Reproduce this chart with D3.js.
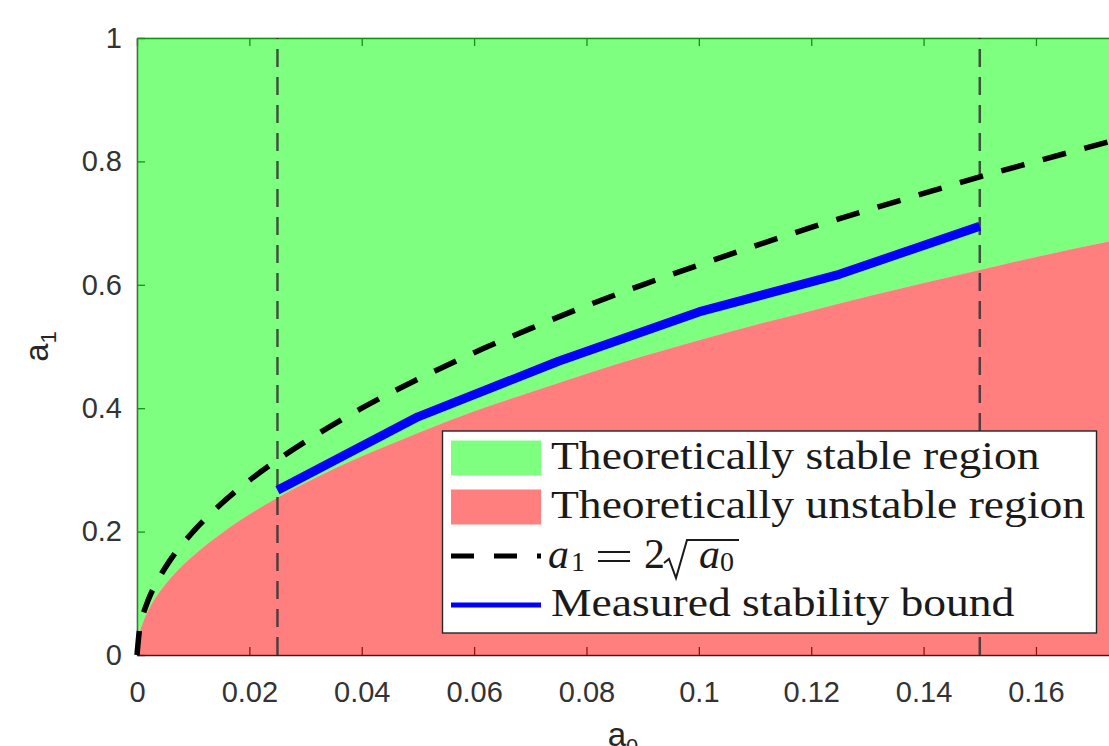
<!DOCTYPE html>
<html lang="en">
<head>
<meta charset="UTF-8">
<title>Stability region</title>
<script src="https://d3js.org/d3.v7.min.js"></script>
<style>
    body {
        margin: 0;
        background-color: #ffffff;
    }
    .tick text {
        font-family: "Liberation Sans", Arial, sans-serif;
        font-size: 29px;
        fill: #333333;
    }
</style>
</head>
<body>

<div id="my_dataviz"></div>

<script>

//data
var a0Grid = [0, 0.0005, 0.001, 0.002, 0.004, 0.006, 0.01, 0.015, 0.02, 0.025, 0.03, 0.04, 0.05,
              0.06, 0.07, 0.08, 0.09, 0.1, 0.11, 0.12, 0.13, 0.14, 0.15, 0.16, 0.173];
//edge between the red and the green region
var boundaryA1 = [0, 0.036, 0.051, 0.072, 0.102, 0.125, 0.161, 0.197, 0.228, 0.255, 0.279, 0.322, 0.360,
                  0.395, 0.426, 0.456, 0.484, 0.510, 0.535, 0.558, 0.581, 0.603, 0.624, 0.645, 0.670];
//black dashed curve a1 = 2 sqrt(a0)
var sqrtCurveA1 = [0, 0.045, 0.063, 0.089, 0.126, 0.155, 0.200, 0.245, 0.283, 0.316, 0.346, 0.400, 0.447,
                   0.490, 0.529, 0.566, 0.600, 0.632, 0.663, 0.693, 0.721, 0.748, 0.775, 0.800, 0.832];
//blue measured bound
var measuredA0 = [0.025, 0.05, 0.075, 0.1, 0.125, 0.15];
var measuredA1 = [0.267, 0.386, 0.476, 0.556, 0.617, 0.695];
//vertical dashed markers
var markerA0 = [0.025, 0.15];

var xTicks = [0, 0.02, 0.04, 0.06, 0.08, 0.1, 0.12, 0.14, 0.16];
var xTickLabels = ["0", "0.02", "0.04", "0.06", "0.08", "0.1", "0.12", "0.14", "0.16"];
var yTicks = [0, 0.2, 0.4, 0.6, 0.8, 1];
var yTickLabels = ["0", "0.2", "0.4", "0.6", "0.8", "1"];

var legendLabels = ["Theoretically stable region", "Theoretically unstable region", "", "Measured stability bound"];

//dimensions and margins
var W = 1109, H = 746;
var margin = {top: 38, right: 0, bottom: 91, left: 137};

var svg = d3.select("#my_dataviz")
    .append("svg")
        .attr("width", W)
        .attr("height", H)
        .style("display", "block");

var x = d3.scaleLinear()
    .domain([0, 0.173])
    .range([margin.left, W - margin.right]);
var y = d3.scaleLinear()
    .domain([0, 1])
    .range([H - margin.bottom, margin.top]);

var curve = a0Grid.map(function(a, i) { return {a0: a, lo: boundaryA1[i], sq: sqrtCurveA1[i]}; });
var measured = measuredA0.map(function(a, i) { return {a0: a, a1: measuredA1[i]}; });

//axes first, the half transparent patches go over them
function styleAxis(g) {
    g.select(".domain").attr("stroke", "#262626").attr("stroke-width", 1.5);
    g.selectAll(".tick line").attr("stroke", "#262626").attr("stroke-width", 1.3);
}
svg.append("g")
    .attr("transform", "translate(0," + y(0) + ")")
    .call(d3.axisBottom(x).tickValues(xTicks)
        .tickFormat(function(d, i) { return xTickLabels[i]; })
        .tickSizeInner(-8).tickSizeOuter(0).tickPadding(26))
    .call(styleAxis);
svg.append("g")
    .attr("transform", "translate(0," + y(1) + ")")
    .call(d3.axisTop(x).tickValues(xTicks).tickFormat("")
        .tickSizeInner(-8).tickSizeOuter(0))
    .call(styleAxis);
svg.append("g")
    .attr("transform", "translate(" + x(0) + ",0)")
    .call(d3.axisLeft(y).tickValues(yTicks)
        .tickFormat(function(d, i) { return yTickLabels[i]; })
        .tickSizeInner(-8).tickSizeOuter(0).tickPadding(15))
    .call(styleAxis);
svg.selectAll(".domain").attr("fill", "none");

//regions
var greenArea = d3.area()
    .x(function(d) { return x(d.a0); })
    .y0(function(d) { return y(d.lo); })
    .y1(y(1))
    .curve(d3.curveMonotoneX);
var redArea = d3.area()
    .x(function(d) { return x(d.a0); })
    .y0(y(0))
    .y1(function(d) { return y(d.lo); })
    .curve(d3.curveMonotoneX);

svg.append("path")
    .datum(curve)
    .attr("d", greenArea)
    .attr("fill", "#00ff00")
    .attr("fill-opacity", 0.5);
svg.append("path")
    .datum(curve)
    .attr("d", redArea)
    .attr("fill", "#ff0000")
    .attr("fill-opacity", 0.5);

//vertical dashed markers
svg.selectAll("marker-line")
    .data(markerA0)
    .enter()
    .append("line")
        .attr("x1", function(d) { return x(d); })
        .attr("x2", function(d) { return x(d); })
        .attr("y1", y(0))
        .attr("y2", y(1))
        .attr("stroke", "#2a2a2a")
        .attr("stroke-opacity", 0.8)
        .attr("stroke-width", 2.5)
        .attr("stroke-dasharray", "18,10");

//a1 = 2 sqrt(a0)
svg.append("path")
    .datum(curve)
    .attr("d", d3.line()
        .x(function(d) { return x(d.a0); })
        .y(function(d) { return y(d.sq); })
        .curve(d3.curveMonotoneX))
    .attr("fill", "none")
    .attr("stroke", "#000000")
    .attr("stroke-width", 5.5)
    .attr("stroke-dasharray", "24,19");

//measured bound
svg.append("path")
    .datum(measured)
    .attr("d", d3.line()
        .x(function(d) { return x(d.a0); })
        .y(function(d) { return y(d.a1); }))
    .attr("fill", "none")
    .attr("stroke", "#0000ff")
    .attr("stroke-width", 9)
    .attr("stroke-linejoin", "round");

//axis labels
var xLabel = svg.append("text")
    .attr("x", (x(0) + W) / 2)
    .attr("y", 746)
    .attr("text-anchor", "middle")
    .style("font-family", "Liberation Sans, Arial, sans-serif")
    .style("font-size", "33px")
    .attr("fill", "#262626");
xLabel.append("tspan").text("a");
xLabel.append("tspan").attr("dy", 8).style("font-size", "22px").text("0");

var yLabel = svg.append("text")
    .attr("transform", "translate(48," + ((y(0) + y(1)) / 2) + ")rotate(-90)")
    .attr("text-anchor", "middle")
    .style("font-family", "Liberation Sans, Arial, sans-serif")
    .style("font-size", "33px")
    .attr("fill", "#262626");
yLabel.append("tspan").text("a");
yLabel.append("tspan").attr("dy", 8).style("font-size", "22px").text("1");

//legend
var legend = svg.append("g");
legend.append("rect")
    .attr("x", 442.5)
    .attr("y", 431)
    .attr("width", 654)
    .attr("height", 202)
    .attr("fill", "#ffffff")
    .attr("stroke", "#262626")
    .attr("stroke-width", 1.4);

var rowY = function(i) { return 458 + i * 49; };
var serif = "Liberation Serif, Times New Roman, serif";
var ink = "#1a1a1a";

legend.append("rect")
    .attr("x", 451).attr("y", rowY(0) - 17.5).attr("width", 90).attr("height", 35)
    .attr("fill", "#00ff00").attr("fill-opacity", 0.5);
legend.append("rect")
    .attr("x", 451).attr("y", rowY(1) - 17.5).attr("width", 90).attr("height", 35)
    .attr("fill", "#ff0000").attr("fill-opacity", 0.5);
legend.append("line")
    .attr("x1", 451).attr("x2", 541).attr("y1", rowY(2)).attr("y2", rowY(2))
    .attr("stroke", "#000000").attr("stroke-width", 5).attr("stroke-dasharray", "23,20");
legend.append("line")
    .attr("x1", 451).attr("x2", 541).attr("y1", rowY(3)).attr("y2", rowY(3))
    .attr("stroke", "#0000ff").attr("stroke-width", 5);

legendLabels.forEach(function(t, i) {
    if (t === "") return;
    legend.append("text")
        .attr("transform", "translate(551," + (rowY(i) + 11) + ")scale(1.14,1)")
        .style("font-family", serif)
        .style("font-size", "40px")
        .attr("fill", ink)
        .text(t);
});

//math entry: a1 = 2 sqrt(a0), set by hand like LaTeX would
var mb = rowY(2) + 12;
function mathPiece(px, str, size, italic, shift) {
    legend.append("text")
        .attr("x", px)
        .attr("y", mb + (shift || 0))
        .style("font-family", serif)
        .style("font-size", size + "px")
        .style("font-style", italic ? "italic" : "normal")
        .attr("fill", ink)
        .text(str);
}
mathPiece(548, "a", 42, true);
mathPiece(571, "1", 28, false, 3);
//equals sign
legend.append("path")
    .attr("d", "M598," + (mb - 16) + "H630M598," + (mb - 7) + "H630")
    .attr("stroke", ink)
    .attr("stroke-width", 2.2);
mathPiece(644, "2", 42, false);
//radical sign with bar
legend.append("path")
    .attr("d", "M664," + (mb - 5) + "L669," + (mb - 9) + "L676," + (mb + 10) +
               "L687," + (mb - 28) + "H739")
    .attr("fill", "none")
    .attr("stroke", ink)
    .attr("stroke-width", 2);
mathPiece(699, "a", 42, true);
mathPiece(720, "0", 28, false, 3);

</script>
</body>
</html>
